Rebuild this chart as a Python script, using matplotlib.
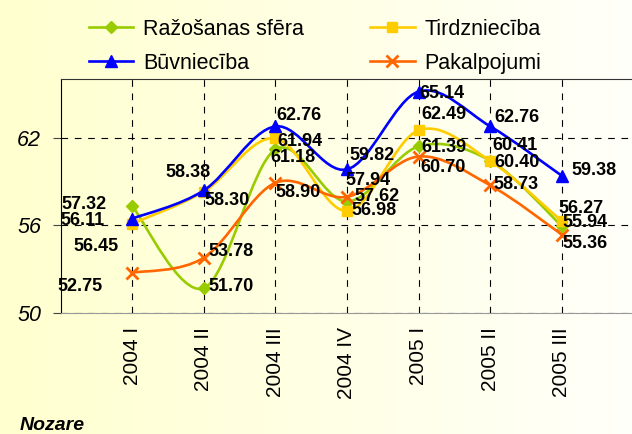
import numpy as np
import matplotlib
matplotlib.use('Agg')
import matplotlib.pyplot as plt
from matplotlib.path import Path
from matplotlib.patches import PathPatch
from matplotlib.lines import Line2D

plt.rcParams['font.family'] = ['Liberation Sans', 'DejaVu Sans']

# Data (indeksi pa ceturkšņiem)
quarters = ['2004 I', '2004 II', '2004 III', '2004 IV', '2005 I', '2005 II', '2005 III']
razosana = [57.32, 51.70, 61.18, 57.62, 61.39, 60.41, 55.94]
tirdznieciba = [56.11, 58.30, 61.94, 56.98, 62.49, 60.40, 56.27]
buvnieciba = [56.45, 58.38, 62.76, 59.82, 65.14, 62.76, 59.38]
pakalpojumi = [52.75, 53.78, 58.90, 57.94, 60.70, 58.73, 55.36]
names = ['Ražošanas sfēra', 'Tirdzniecība', 'Būvniecība', 'Pakalpojumi']
y_ticks = [50, 56, 62]

# styles
colors = ['#99CC00', '#FFCC00', '#0000FF', '#FF6600']
markers = ['D', 's', '^', 'x']
msizes = [6, 7, 8.5, 8]

# label placement (pixel offsets from the point, alignment)
label_pos = [
    [(-26, 1, 'right'), (5, 2, 'left'), (-5, -8, 'left'), (7, 5, 'left'),
     (3, -1, 'left'), (2, 15, 'left'), (1, 4, 'left')],
    [(-28, 3, 'right'), (1, -9, 'left'), (2, -3, 'left'), (4, 0, 'left'),
     (3, 16, 'left'), (4, -2, 'left'), (-3, 13, 'left')],
    [(-14, -28, 'right'), (7, 18, 'right'), (1, 11, 'left'), (2, 14, 'left'),
     (1, -2, 'left'), (4, 9, 'left'), (10, 5, 'left')],
    [(-30, -14, 'right'), (5, 6, 'left'), (0, -10, 'left'), (-2, 16, 'left'),
     (2, -11, 'left'), (3, 1, 'left'), (1, -9, 'left')],
]


def smooth_path(xs, ys):
    """Excel-like smoothed line as cubic bezier segments"""
    pts = np.column_stack([xs, ys]).astype(float)
    verts = [pts[0]]
    codes = [Path.MOVETO]
    n = len(pts)
    for i in range(n - 1):
        p0 = pts[i - 1] if i > 0 else pts[i]
        p1 = pts[i]
        p2 = pts[i + 1]
        p3 = pts[i + 2] if i + 2 < n else pts[i + 1]
        verts += [p1 + (p2 - p0) / 6, p2 - (p3 - p1) / 6, p2]
        codes += [Path.CURVE4] * 3
    return Path(verts, codes)


fig = plt.figure(figsize=(6.32, 4.34), dpi=100)

# background gradient
bg = fig.add_axes([0, 0, 1, 1], zorder=-10)
grad = np.linspace(0, 1, 256).reshape(1, -1)
bg.imshow(grad, aspect='auto', extent=[0, 1, 0, 1],
          cmap=matplotlib.colors.LinearSegmentedColormap.from_list('bg', ['#FFFFCF', '#FFFFFA']))
bg.axis('off')

ax = fig.add_axes([60.5 / 632, 1 - 313 / 434, 573 / 632, 234 / 434])
ax.set_facecolor('none')

x = np.arange(len(quarters))
all_series = [razosana, tirdznieciba, buvnieciba, pakalpojumi]
handles = []
for k, vals in enumerate(all_series):
    patch = PathPatch(smooth_path(x, vals), facecolor='none', edgecolor=colors[k],
                      lw=1.9, zorder=3 + k)
    ax.add_patch(patch)
    mew = 2 if markers[k] == 'x' else 1
    ax.plot(x, vals, linestyle='none', marker=markers[k], color=colors[k],
            markersize=msizes[k], markeredgewidth=mew, zorder=3 + k)
    handles.append(Line2D([], [], color=colors[k], lw=1.9, marker=markers[k],
                          markersize=msizes[k], markeredgewidth=mew))
    for i, v in enumerate(vals):
        dx, dy, ha = label_pos[k][i]
        ax.annotate(f'{v:.2f}', (i, v), xytext=(dx, dy), textcoords='offset pixels',
                    ha=ha, va='center', fontsize=13, fontweight='bold', zorder=10)

ax.set_xlim(-1, 7)
ax.set_ylim(50, 66)
ax.set_xticks(x)
ax.set_xticklabels(quarters, rotation=90, fontsize=15)
ax.set_yticks(y_ticks)
ax.set_yticklabels([str(t) for t in y_ticks], fontsize=15.5, style='italic')
ax.tick_params(axis='x', length=0, pad=10)
ax.tick_params(axis='y', length=6, pad=8, color='#444444')
ax.grid(True, color='black', linestyle=(0, (6, 6)), linewidth=0.8)
ax.set_axisbelow(True)
ax.spines['right'].set_visible(False)
ax.spines['left'].set_color('black')
ax.spines['top'].set_color('#333333')
ax.spines['bottom'].set_color('#999999')

# legend: row-wise order
order = [0, 2, 1, 3]
fig.legend([handles[i] for i in order], [names[i] for i in order], ncol=2,
           loc='upper left', bbox_to_anchor=(89 / 632, 1 - 19 / 434), frameon=False,
           fontsize=15.5, handlelength=2.05, handletextpad=0.45, columnspacing=3.1,
           labelspacing=0.6, borderpad=0, borderaxespad=0)

fig.text(20 / 632, 1 - 425 / 434, 'Nozare', fontsize=14, fontweight='bold',
         style='italic', va='center', ha='left')

fig.savefig('out.png', dpi=100)
